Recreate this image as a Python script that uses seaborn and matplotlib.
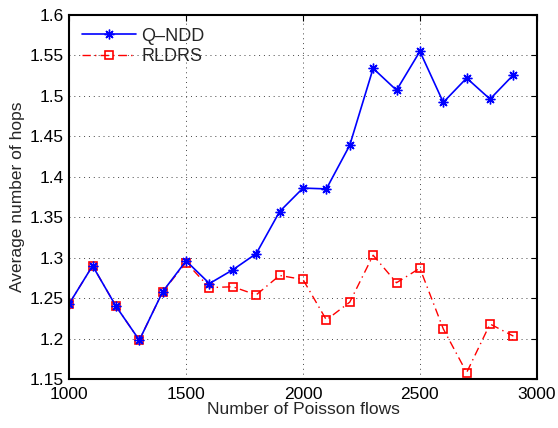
import matplotlib
matplotlib.use("Agg")
import matplotlib.pyplot as plt
import seaborn as sns
import pandas as pd

flows = [1000, 1100, 1200, 1300, 1400, 1500, 1600, 1700, 1800, 1900,
         2000, 2100, 2200, 2300, 2400, 2500, 2600, 2700, 2800, 2900]
qndd = [1.243, 1.290, 1.240, 1.198, 1.258, 1.296, 1.268, 1.285, 1.305, 1.357,
        1.386, 1.385, 1.439, 1.534, 1.507, 1.555, 1.492, 1.522, 1.496, 1.526]
rldrs = [1.243, 1.290, 1.240, 1.198, 1.258, 1.294, 1.263, 1.264, 1.254, 1.278,
         1.273, 1.223, 1.245, 1.303, 1.269, 1.287, 1.212, 1.158, 1.218, 1.203]
xticks = [1000, 1500, 2000, 2500, 3000]
yticks = [1.15, 1.2, 1.25, 1.3, 1.35, 1.4, 1.45, 1.5, 1.55, 1.6]
ytick_labels = ["1.15", "1.2", "1.25", "1.3", "1.35", "1.4", "1.45", "1.5", "1.55", "1.6"]

sns.set_style("white")
plt.rcParams['font.family'] = ['Liberation Sans', 'DejaVu Sans']

fig = plt.figure(figsize=(5.58, 4.28), dpi=100)
ax = fig.add_axes([0.124, 0.1145, 0.838, 0.8505])

df_r = pd.DataFrame({"x": flows, "y": rldrs})
df_q = pd.DataFrame({"x": flows, "y": qndd})

sns.lineplot(data=df_r, x="x", y="y", ax=ax, color="red", linestyle=(0, (6, 3, 1, 3)),
             marker="s", markersize=6, markerfacecolor="none",
             markeredgecolor="red", markeredgewidth=1.2, linewidth=1.0,
             label="RLDRS")
sns.lineplot(data=df_q, x="x", y="y", ax=ax, color="blue", linestyle="-",
             marker=(8, 2, 0), markersize=7, markeredgecolor="blue",
             markeredgewidth=1.0, linewidth=1.2, label="Q\u2013NDD")

ax.set_xlim(1000, 3000)
ax.set_ylim(1.15, 1.6)
ax.set_xticks(xticks)
ax.set_yticks(yticks)
ax.set_xticklabels([str(t) for t in xticks])
ax.set_yticklabels(ytick_labels)
ax.grid(True, linestyle=(0, (1, 4)), color="#444444", linewidth=0.7)
ax.tick_params(direction="in", length=4, width=0.8, labelsize=12.5, top=True, right=True,
               colors="black")
ax.tick_params(axis="x", pad=6)
ax.tick_params(axis="y", pad=4)
for s in ax.spines.values():
    s.set_visible(True)
    s.set_color("black")
    s.set_linewidth(1.5)

ax.set_xlabel("Number of Poisson flows", fontsize=12.5, labelpad=0)
ax.set_ylabel("Average number of hops", fontsize=12.5, labelpad=3)

h, l = ax.get_legend_handles_labels()
ax.legend([h[1], h[0]], [l[1], l[0]], loc="upper left", frameon=False,
          fontsize=13, borderaxespad=0.3, handlelength=3.0, handletextpad=0.3,
          labelspacing=0.2)

fig.savefig("out.png", dpi=100)
